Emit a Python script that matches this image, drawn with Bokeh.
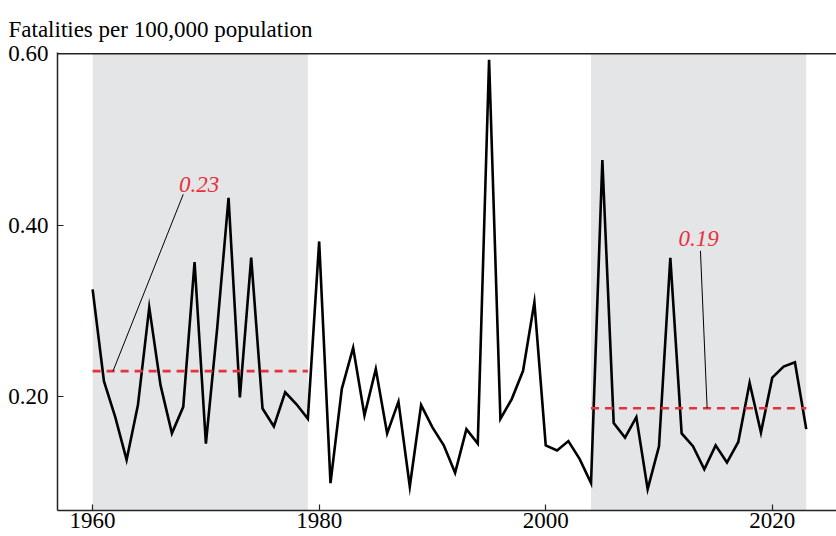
from bokeh.plotting import figure
from bokeh.models import (ColumnDataSource, FixedTicker, NumeralTickFormatter,
                          BoxAnnotation, Range1d, Span)
from bokeh.core.properties import value
from bokeh.embed import file_html
from bokeh.resources import INLINE

# Annual fatalities per 100,000 population
years = list(range(1960, 2024))
rates = [
    0.325, 0.218, 0.176, 0.126, 0.190, 0.304, 0.213, 0.157, 0.188, 0.357,
    0.145, 0.280, 0.432, 0.199, 0.362, 0.186, 0.165, 0.205, 0.191, 0.174,
    0.381, 0.099, 0.209, 0.257, 0.178, 0.232, 0.157, 0.194, 0.095, 0.190,
    0.164, 0.143, 0.111, 0.162, 0.145, 0.593, 0.174, 0.197, 0.230, 0.310,
    0.143, 0.137, 0.148, 0.127, 0.099, 0.476, 0.169, 0.152, 0.176, 0.092,
    0.142, 0.362, 0.157, 0.142, 0.115, 0.143, 0.123, 0.147, 0.216, 0.158,
    0.222, 0.235, 0.240, 0.162,
]

# Shaded periods and their averages
periods = [(1960, 1979), (2004, 2023)]
x_ticks = [1960, 1980, 2000, 2020]
y_ticks = [0.20, 0.40, 0.60]

SERIF = "Liberation Serif"
RED = "#e8313a"
SHADE = "#e4e5e7"
FS = "23px"

p = figure(width=836, height=536, output_backend="svg", toolbar_location=None,
           x_range=Range1d(1956.9, 2025.67), y_range=Range1d(0.067, 0.6015),
           min_border_left=57, min_border_right=0, min_border_top=52, min_border_bottom=26,
           x_axis_location="below", y_axis_location="left")
p.outline_line_color = None
p.grid.visible = False
p.background_fill_color = "white"

p.title.text = "Fatalities per 100,000 population"
p.title.text_font = SERIF
p.title.text_font_size = FS
p.title.text_font_style = "normal"
p.title.text_color = "black"
p.title.align = "left"
p.title.offset = -49
p.title.standoff = 22

for ax in (p.xaxis[0], p.yaxis[0]):
    ax.axis_line_color = "#222222"
    ax.axis_line_width = 1.5
    ax.major_tick_in = 6
    ax.major_tick_out = 0
    ax.major_tick_line_color = "#222222"
    ax.major_tick_line_width = 1.2
    ax.minor_tick_line_color = None
    ax.major_label_text_font = SERIF
    ax.major_label_text_font_size = FS
    ax.major_label_text_color = "black"

p.xaxis[0].ticker = FixedTicker(ticks=x_ticks)
p.xaxis[0].major_label_standoff = 2
p.yaxis[0].ticker = FixedTicker(ticks=y_ticks)
p.yaxis[0].formatter = NumeralTickFormatter(format="0.00")
p.yaxis[0].major_label_standoff = 9

# Top edge of the plotting frame
p.add_layout(Span(location=0.6, dimension="width", line_color="#222222", line_width=1.5))

for start, end in periods:
    p.add_layout(BoxAnnotation(left=start, right=end, bottom=0.067, top=0.6,
                               fill_color=SHADE, fill_alpha=1.0,
                               line_color=None, level="underlay"))

src = ColumnDataSource(dict(year=years, rate=rates))
p.line("year", "rate", source=src, line_color="black", line_width=2.6, line_join="miter")

# Period means drawn as dashed red lines
means = []
for start, end in periods:
    vals = [r for y, r in zip(years, rates) if start <= y <= end]
    m = sum(vals) / len(vals)
    means.append(m)
    p.line([start, end], [m, m], line_color=RED, line_width=2.6, line_dash="8 6")

# Callout labels with leader lines
callouts = [
    # (label x, label y, leader start x, leader start y, leader end x)
    (1969.4, 0.448, 1968.0, 0.436, 1961.8),
    (2013.5, 0.385, 2013.66, 0.370, 2014.25),
]
for (lx, ly, sx, sy, ex), m in zip(callouts, means):
    p.segment(x0=[sx], y0=[sy], x1=[ex], y1=[m], line_color="black", line_width=1)
    p.text(x=[lx], y=[ly], text=[f"{m:.2f}"], text_font=value(SERIF), text_font_size=FS,
           text_font_style="italic", text_color=RED, text_align="center",
           text_baseline="middle")

open("out.html", "w").write(file_html(p, INLINE))
